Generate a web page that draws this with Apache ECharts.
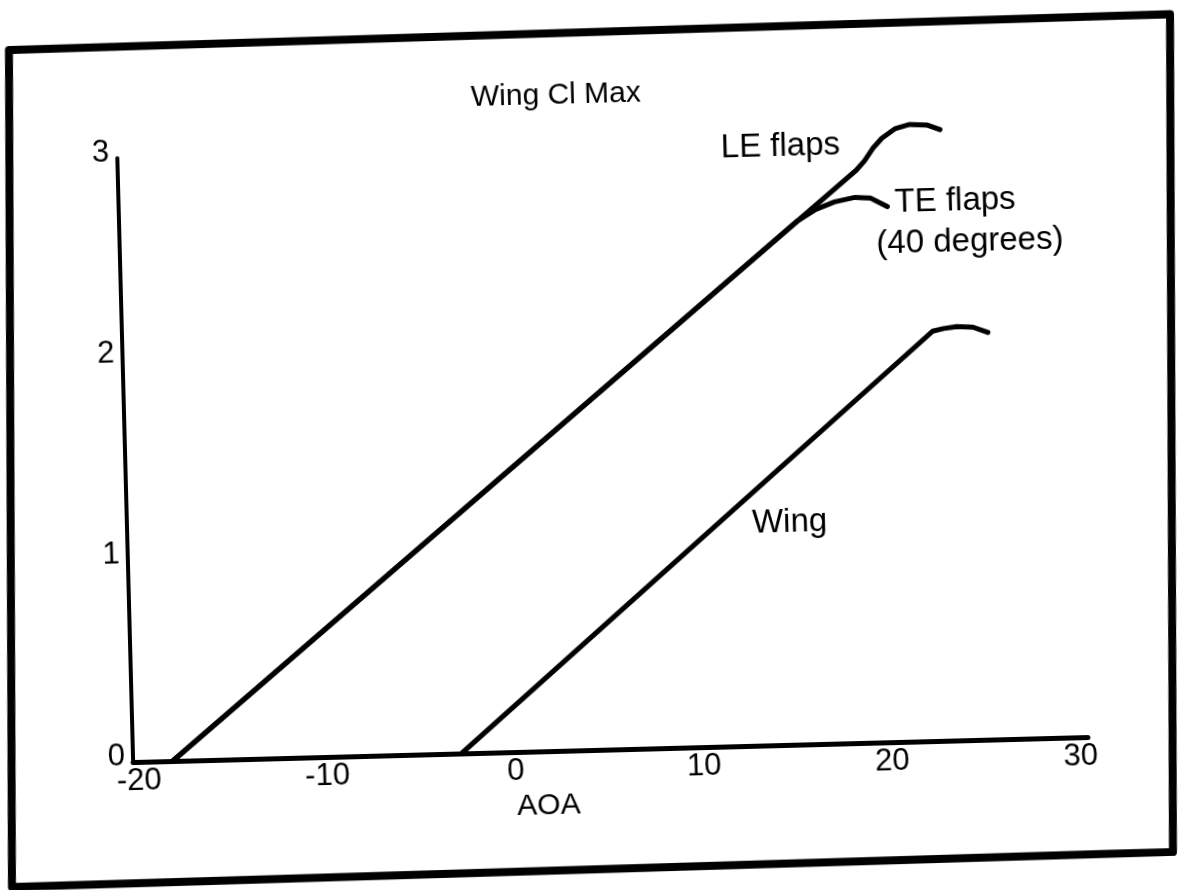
<!DOCTYPE html>
<html>
<head>
<meta charset="utf-8">
<script src="https://cdn.jsdelivr.net/npm/echarts@6/dist/echarts.min.js"></script>
<style>
html, body { margin: 0; padding: 0; background: #fff; overflow: hidden; width: 1179px; height: 890px; }
#chart { position: absolute; left: -40px; top: -40px; width: 1259px; height: 970px;
         transform: rotate(-1.5deg); transform-origin: 629.5px 485px; }
</style>
</head>
<body>
<div id="chart"></div>
<script>
// ---- data ----
const titleText = 'Wing Cl Max';
const xAxisName = 'AOA';
const xTicks = [-20, -10, 0, 10, 20, 30];
const yTicks = [0, 1, 2, 3];

const leFlapsAoa = [-18.2, 18.9, 19.35, 19.8, 20.3, 21.0, 21.8, 22.7, 23.4];
const leFlapsCl  = [0, 2.845, 2.89, 2.95, 3.0, 3.045, 3.065, 3.06, 3.035];

const teFlapsAoa = [-18.2, 15.7, 16.7, 17.7, 18.8, 19.6, 20.5];
const teFlapsCl  = [0, 2.60, 2.655, 2.69, 2.71, 2.705, 2.66];

const wingAoa = [-2.86, 22.72, 23.3, 24.02, 24.87, 25.66];
const wingCl  = [0, 2.035, 2.047, 2.055, 2.05, 2.022];

// annotation texts and their anchor points (data units)
const noteTexts = ['LE flaps', 'TE flaps', '(40 degrees)', 'Wing'];
const noteAoa   = [18.1, 20.86, 19.84, 12.85];
const noteCl    = [2.97, 2.68, 2.475, 1.104];
const noteSide  = ['left', 'right', 'right', 'right'];

// ---- chart ----
const FONT = '"Liberation Sans", Arial, Helvetica, sans-serif';
const zip = (xs, ys) => xs.map((x, i) => [x, ys[i]]);
const lineStyle = { color: '#000', width: 5, cap: 'round', join: 'round' };

const notes = noteTexts.map((t, i) => ({
  coord: [noteAoa[i], noteCl[i]],
  label: {
    show: true, formatter: t, position: noteSide[i], distance: 0,
    color: '#000', fontSize: 33, fontFamily: FONT
  }
}));

const chart = echarts.init(document.getElementById('chart'), null, { renderer: 'canvas' });
chart.setOption({
  animation: false,
  backgroundColor: 'transparent',
  title: {
    text: titleText, left: 520, top: 120, padding: 0,
    textStyle: { color: '#000', fontSize: 30, fontWeight: 'normal', fontFamily: FONT }
  },
  grid: { left: 165, right: 139, top: 186, bottom: 180, containLabel: false },
  xAxis: {
    type: 'value', min: -20.3, max: 30.4,
    name: xAxisName, nameLocation: 'middle', nameGap: 38,
    nameTextStyle: { color: '#000', fontSize: 30, fontFamily: FONT, padding: [0, 126, 0, 0] },
    axisLine: { show: true, onZero: false, lineStyle: { color: '#000', width: 5 } },
    axisTick: { show: false },
    splitLine: { show: false },
    axisLabel: { customValues: xTicks, margin: 4, color: '#000', fontSize: 31, fontFamily: FONT }
  },
  yAxis: {
    type: 'value', min: 0, max: 3,
    axisLine: { show: true, onZero: false, lineStyle: { color: '#000', width: 4 } },
    axisTick: { show: false },
    splitLine: { show: false },
    axisLabel: { customValues: yTicks, margin: 8, verticalAlign: 'bottom', lineHeight: 12,
                 color: '#000', fontSize: 31, fontFamily: FONT }
  },
  graphic: [{
    type: 'polygon', z: 100, silent: true,
    shape: { points: [[59.5, 74.9], [1221.1, 69.4], [1202.1, 907.1], [40.6, 911.7]] },
    style: { fill: null, stroke: '#000', lineWidth: 8, lineJoin: 'round' }
  }],
  series: [
    { name: 'LE flaps', type: 'line', clip: false, data: zip(leFlapsAoa, leFlapsCl), symbol: 'none', lineStyle: lineStyle,
      markPoint: { symbol: 'circle', symbolSize: 1, itemStyle: { color: 'rgba(0,0,0,0)' }, data: notes } },
    { name: 'TE flaps', type: 'line', clip: false, data: zip(teFlapsAoa, teFlapsCl), symbol: 'none', lineStyle: lineStyle },
    { name: 'Wing', type: 'line', clip: false, data: zip(wingAoa, wingCl), symbol: 'none', lineStyle: lineStyle }
  ]
});
</script>
</body>
</html>
